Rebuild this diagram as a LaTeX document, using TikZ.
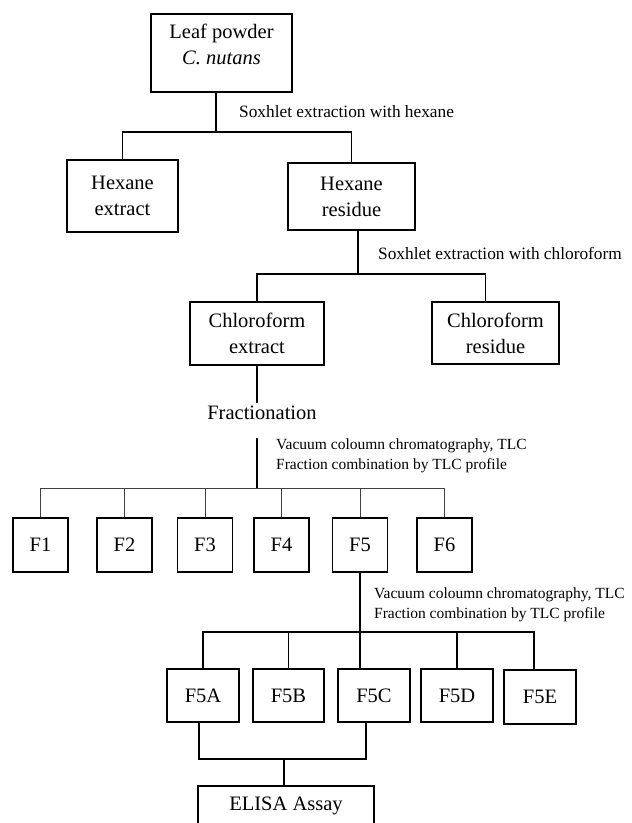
\documentclass[tikz,border=0pt]{standalone}
\usepackage{fontspec}
\setmainfont{Liberation Serif}
\usetikzlibrary{calc,positioning}

\tikzset{
	bigbox/.style={draw, line width=1.6pt, align=center, inner sep=2pt, font=\fontsize{20.5}{26}\selectfont},
	fracbox/.style={draw, line width=1.1pt, inner sep=0pt, font=\fontsize{20.5}{26}\selectfont},
	note/.style={anchor=west, align=left, inner sep=0pt},
	thick link/.style={line width=1.6pt},
	mid link/.style={line width=1.1pt},
	thin link/.style={line width=0.8pt, black!75},
}

\begin{document}
\begin{tikzpicture}[x=1pt,y=-1pt]
					\useasboundingbox (0,0) rectangle (632,823);
					\coordinate (origin) at (0,0);

					\node[bigbox, minimum width=141pt, minimum height=78pt] (leaf) at ($(origin) + (221.5, 53)$) {Leaf powder\\\textit{C. nutans}\\[-8pt]\mbox{}};
					\node[bigbox, minimum width=111pt, minimum height=72pt] (hext) at ($(origin) + (122.5, 196)$) {Hexane\\extract};
					\node[bigbox, minimum width=127pt, minimum height=67pt] (hres) at ($(origin) + (351.5, 196.5)$) {Hexane\\residue};
					\node[bigbox, minimum width=134pt, minimum height=63pt] (cext) at ($(origin) + (257, 333.5)$) {Chloroform\\extract};
					\node[bigbox, minimum width=127pt, minimum height=62pt] (cres) at ($(origin) + (495.5, 333)$) {Chloroform\\residue};
					\node[font=\fontsize{20.5}{26}\selectfont] (frac) at ($(origin) + (262, 413)$) {Fractionation};

					\node[note, font=\fontsize{17.3}{20}\selectfont] (lbl1) at ($(origin) + (239, 112)$) {Soxhlet extraction with hexane};
					\node[note, font=\fontsize{17.3}{20}\selectfont] (lbl2) at ($(origin) + (378, 253)$) {Soxhlet extraction with chloroform};
					\node[note, font=\fontsize{15.5}{19.5}\selectfont] (lbl3) at ($(origin) + (276, 456)$) {Vacuum coloumn chromatography, TLC\\Fraction combination by TLC profile};
					\node[note, font=\fontsize{15.5}{19.5}\selectfont] (lbl4) at ($(origin) + (374, 605)$) {Vacuum coloumn chromatography, TLC\\Fraction combination by TLC profile};

					\node[fracbox, minimum width=55pt, minimum height=54pt] (F1) at ($(origin) + (40.5, 545)$) {F1};
					\node[fracbox, minimum width=55pt, minimum height=54pt] (F2) at ($(origin) + (124.5, 545)$) {F2};
					\node[fracbox, minimum width=55pt, minimum height=54pt] (F3) at ($(origin) + (205, 545)$) {F3};
					\node[fracbox, minimum width=55pt, minimum height=54pt] (F4) at ($(origin) + (281.5, 545)$) {F4};
					\node[fracbox, minimum width=55pt, minimum height=54pt] (F5) at ($(origin) + (360, 545)$) {F5};
					\node[fracbox, minimum width=55pt, minimum height=54pt] (F6) at ($(origin) + (444.5, 545)$) {F6};

					\node[fracbox, minimum width=72pt, minimum height=53pt] (F5A) at ($(origin) + (203, 695.5)$) {F5A};
					\node[fracbox, minimum width=71pt, minimum height=53pt] (F5B) at ($(origin) + (288.5, 695.5)$) {F5B};
					\node[fracbox, minimum width=72pt, minimum height=53pt] (F5C) at ($(origin) + (374, 695.5)$) {F5C};
					\node[fracbox, minimum width=72pt, minimum height=53pt] (F5D) at ($(origin) + (457, 695.5)$) {F5D};
					\node[fracbox, minimum width=72pt, minimum height=54pt] (F5E) at ($(origin) + (540, 697)$) {F5E};

					\node[bigbox, minimum width=176pt, minimum height=40pt] (elisa) at ($(origin) + (286, 806)$) {ELISA Assay};

					\coordinate (j1) at ($(origin) + (216, 132)$);
					\coordinate (j2) at ($(origin) + (358, 274)$);
					\coordinate (j3) at ($(origin) + (257, 488)$);
					\coordinate (j4) at ($(origin) + (362, 632)$);
					\coordinate (j5) at ($(origin) + (284, 759)$);

					\draw[thick link] (leaf.south -| j1) -- (j1);
					\draw[thick link] (hext.north) |- (j1) -| (hres.north);
					\draw[thick link] (hres.south -| j2) -- (j2);
					\draw[thick link] (cext.north) |- (j2) -| ([xshift=-10pt]cres.north);
					\draw[thick link] (cext.south) -- (cext.south |- frac.north);
					\draw[thick link] (j3 |- frac.south) ++(0, 15) -- (j3);

					\draw[thin link] (F1.north) |- (F6.north |- j3) -- (F6.north);
					\foreach \f in {F2, F3, F4, F5}
						\draw[thin link] (\f.north) -- (\f.north |- j3);

					\draw[thick link] (F5.south) -- (F5.south |- F5C.north);
					\draw[mid link] (F5A.north) |- ([xshift=-6pt]F5E.north |- j4) -- ([xshift=-6pt]F5E.north);
					\draw[mid link] (F5B.north) -- (F5B.north |- j4);
					\draw[mid link] (F5D.north) -- (F5D.north |- j4);

					\draw[thick link] ([xshift=-4pt]F5A.south) |- ([xshift=-8pt]F5C.south |- j5) -- ([xshift=-8pt]F5C.south);
					\draw[thick link] (j5) -- (j5 |- elisa.north);
				\end{tikzpicture}
\end{document}
